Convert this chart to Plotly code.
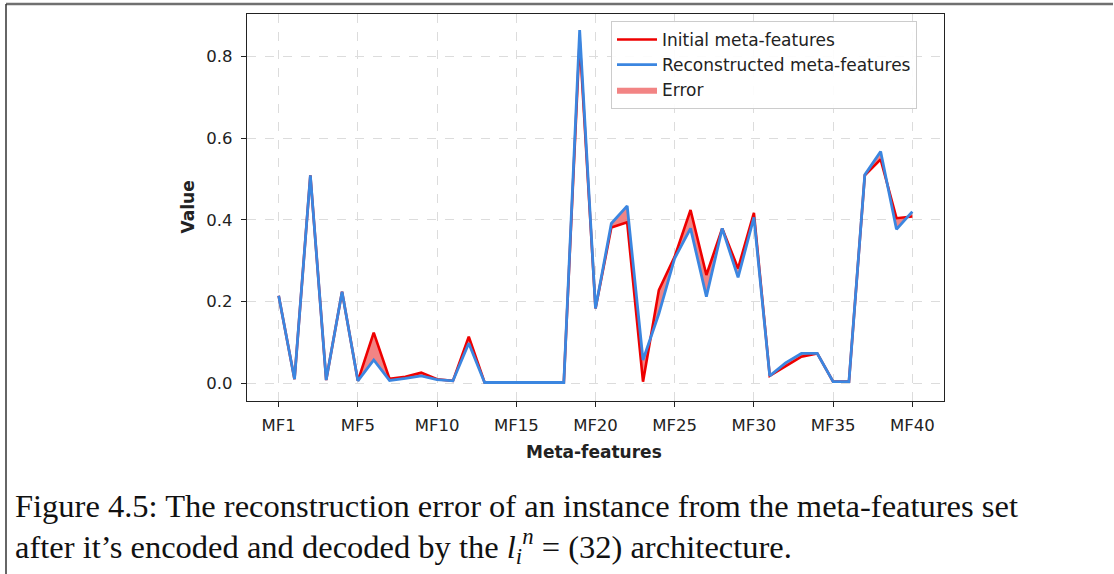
import plotly.graph_objects as go

# ---- data ----
positions = list(range(41))
initial = [0.214, 0.010, 0.509, 0.008, 0.224, 0.006, 0.124, 0.011, 0.016, 0.026,
           0.010, 0.006, 0.114, 0.002, 0.002, 0.002, 0.002, 0.002, 0.002, 0.840,
           0.183, 0.381, 0.394, 0.004, 0.228, 0.310, 0.424, 0.265, 0.379, 0.281,
           0.417, 0.018, 0.041, 0.065, 0.073, 0.004, 0.004, 0.509, 0.548, 0.404,
           0.408]
reconstructed = [0.214, 0.010, 0.509, 0.008, 0.224, 0.006, 0.057, 0.007, 0.012, 0.018,
                 0.009, 0.006, 0.098, 0.002, 0.002, 0.002, 0.002, 0.002, 0.002, 0.864,
                 0.183, 0.391, 0.434, 0.057, 0.170, 0.306, 0.379, 0.212, 0.379, 0.259,
                 0.406, 0.018, 0.050, 0.073, 0.073, 0.004, 0.004, 0.510, 0.567, 0.377,
                 0.420]
tick_positions = [0, 5, 10, 15, 20, 25, 30, 35, 40]
tick_labels = ["MF1", "MF5", "MF10", "MF15", "MF20", "MF25", "MF30", "MF35", "MF40"]
y_ticks = [0.0, 0.2, 0.4, 0.6, 0.8]
y_tick_labels = ["0.0", "0.2", "0.4", "0.6", "0.8"]

W, H = 1114, 574
L, R, T, B = 247, 944, 14, 401  # plot area in pixels
pw, ph = R - L, B - T


def px(x):
    return (x - L) / pw


def py(y):
    return (B - y) / ph


RED = "#ee0000"
BLUE = "#3b86e0"
FILL = "rgba(240,110,110,0.85)"

fig = go.Figure()
fig.add_trace(go.Scatter(x=positions, y=initial, mode="lines",
                         line=dict(width=0, color=FILL), showlegend=False,
                         hoverinfo="skip"))
fig.add_trace(go.Scatter(x=positions, y=reconstructed, mode="lines", fill="tonexty",
                         fillcolor=FILL, line=dict(width=0, color=FILL),
                         name="Error", legendrank=3))
fig.add_trace(go.Scatter(x=positions, y=initial, mode="lines",
                         line=dict(color=RED, width=2.6),
                         name="Initial meta-features", legendrank=1))
fig.add_trace(go.Scatter(x=positions, y=reconstructed, mode="lines",
                         line=dict(color=BLUE, width=2.8),
                         name="Reconstructed meta-features", legendrank=2))

axis_common = dict(showline=True, linecolor="#222", linewidth=1.3, mirror=True,
                   ticks="outside", ticklen=5, tickwidth=1.2, tickcolor="#222",
                   showgrid=True, gridcolor="#dcdcdc", griddash="dash", gridwidth=1,
                   zeroline=False,
                   tickfont=dict(family="DejaVu Sans", size=16.5, color="#222"))

fig.update_xaxes(range=[-2.0, 42.0], tickmode="array", tickvals=tick_positions,
                 ticktext=tick_labels, ticklabelstandoff=4, **axis_common)
fig.update_yaxes(range=[-0.0433, 0.9035], tickmode="array", tickvals=y_ticks,
                 ticktext=y_tick_labels, ticklabelstandoff=5, **axis_common)

annotations = [
    dict(text="<b>Value</b>", x=px(187), y=0.5, textangle=-90,
         font=dict(family="DejaVu Sans", size=17, color="#222")),
    dict(text="<b>Meta-features</b>", x=px(594), y=py(452),
         font=dict(family="DejaVu Sans", size=17, color="#222")),
    dict(text="Figure 4.5: The reconstruction error of an instance from the meta-features set",
         x=px(13), y=py(506), xanchor="left",
         font=dict(family="Liberation Serif", size=32.5, color="#111")),
    dict(text="after it\u2019s encoded and decoded by the <i>l</i><sub><i>i</i></sub><sup><i>n</i></sup> = (32) architecture.",
         x=px(13), y=py(546), xanchor="left",
         font=dict(family="Liberation Serif", size=32.5, color="#111")),
]
for a in annotations:
    a.update(xref="paper", yref="paper", showarrow=False, yanchor="middle",
             xanchor=a.get("xanchor", "center"))

shapes = [
    dict(type="line", xref="paper", yref="paper", x0=px(6), x1=px(1113), y0=py(4), y1=py(4),
         line=dict(color="#707070", width=2.5)),
    dict(type="line", xref="paper", yref="paper", x0=px(6), x1=px(6), y0=py(4), y1=py(574),
         line=dict(color="#333", width=1.5)),
]

fig.update_layout(
    width=W, height=H,
    margin=dict(l=L, r=W - R, t=T, b=H - B),
    paper_bgcolor="white", plot_bgcolor="white",
    annotations=annotations, shapes=shapes,
    legend=dict(x=px(611), y=py(21), xanchor="left", yanchor="top",
                traceorder="normal",
                bgcolor="rgba(255,255,255,0.9)", bordercolor="#cccccc", borderwidth=1,
                font=dict(family="DejaVu Sans", size=17, color="#222"),
                tracegroupgap=0, itemwidth=40),
    showlegend=True,
)

fig.write_html("out.html", config={"displayModeBar": False},
               post_script="document.body.style.margin='0';")
